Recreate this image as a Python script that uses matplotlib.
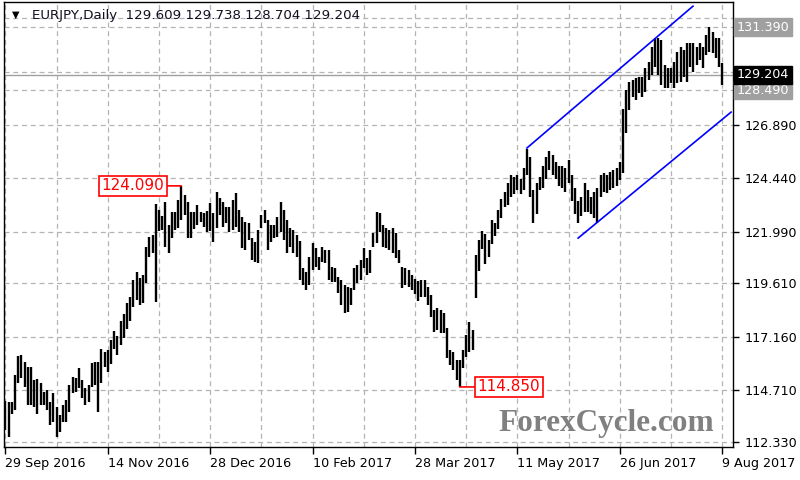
import matplotlib
matplotlib.use("Agg")
import matplotlib.pyplot as plt
import matplotlib.transforms as mtransforms

# EURJPY daily bars, 29 Sep 2016 .. 9 Aug 2017 (one entry per trading day)
highs = [
    114.22, 114.17, 114.17, 115.40, 116.28, 116.31, 116.01, 115.78, 115.78, 115.17,
    115.20, 115.01, 114.63, 114.71, 114.17, 114.55, 113.94, 113.56, 114.02, 114.25,
    114.94, 115.32, 115.24, 115.70, 115.17, 114.78, 114.94, 115.93, 116.01, 116.01,
    116.58, 116.47, 116.54, 117.00, 117.40, 117.20, 117.90, 118.20, 118.70, 119.00,
    119.76, 120.14, 119.84, 119.99, 121.29, 121.75, 121.83, 123.25, 123.00, 122.70,
    123.36, 122.30, 122.90, 122.90, 123.44, 124.09, 123.67, 123.36, 122.90, 122.90,
    123.21, 122.90, 122.83, 122.95, 123.29, 122.83, 123.82, 123.51, 123.36, 123.13,
    123.13, 123.44, 123.74, 122.98, 122.67, 122.44, 122.37, 121.68, 121.52, 122.06,
    122.75, 122.98, 122.52, 122.29, 122.29, 122.67, 123.36, 122.98, 122.52, 122.14,
    122.06, 121.83, 121.55, 120.30, 120.14, 120.83, 121.45, 121.22, 120.83, 121.29,
    121.14, 121.14, 120.37, 120.30, 119.91, 119.76, 119.53, 119.45, 119.38, 120.30,
    120.45, 120.68, 121.22, 120.76, 121.14, 121.91, 122.90, 122.83, 122.29, 122.14,
    122.06, 122.14, 121.91, 121.14, 120.37, 120.30, 120.22, 120.00, 119.80, 119.70,
    119.76, 119.76, 119.45, 119.07, 118.38, 118.46, 118.38, 118.23, 117.54, 116.54,
    116.47, 116.08, 116.08, 116.54, 117.23, 117.85, 117.46, 120.91, 121.60, 122.00,
    121.90, 121.60, 122.50, 122.40, 123.00, 123.50, 123.80, 124.20, 124.60, 124.50,
    124.60, 124.40, 124.90, 125.80, 125.40, 123.90, 124.20, 124.50, 125.00, 125.40,
    125.70, 125.50, 125.20, 125.00, 125.00, 124.90, 125.30, 124.60, 124.00, 123.40,
    123.60, 124.20, 123.90, 123.60, 123.80, 124.00, 124.59, 124.66, 124.59, 124.74,
    124.82, 124.90, 125.20, 127.60, 128.49, 128.88, 128.95, 129.03, 129.08, 129.11,
    129.49, 129.80, 130.49, 130.82, 130.87, 130.79, 129.64, 129.49, 129.49, 129.80,
    130.26, 130.49, 130.33, 130.64, 130.64, 130.64, 130.49, 130.64, 130.49, 131.02,
    131.39, 131.17, 130.87, 130.87, 129.738,
]
lows = [
    112.87, 112.56, 113.60, 113.79, 115.04, 115.24, 114.86, 114.02, 114.02, 113.94,
    113.60, 114.02, 114.02, 113.79, 113.10, 113.25, 112.56, 112.79, 113.25, 113.25,
    113.71, 114.55, 114.63, 114.78, 114.32, 114.02, 114.17, 114.86, 114.94, 113.71,
    115.04, 115.78, 115.55, 115.90, 116.60, 116.30, 116.80, 117.10, 117.50, 117.90,
    118.54, 118.84, 118.61, 118.69, 119.61, 120.83, 120.99, 118.75, 122.00, 122.06,
    121.30, 121.00, 121.70, 122.06, 122.14, 122.50, 122.75, 121.68, 121.68, 122.10,
    122.29, 122.44, 122.21, 121.95, 122.00, 121.52, 122.14, 122.75, 122.21, 122.37,
    121.98, 122.06, 122.21, 121.98, 121.22, 121.14, 121.60, 120.68, 120.60, 120.53,
    122.14, 122.37, 121.14, 121.52, 121.68, 121.75, 121.98, 121.60, 120.99, 121.29,
    120.99, 120.83, 119.75, 119.53, 119.30, 119.53, 120.22, 120.37, 120.22, 120.60,
    120.53, 119.76, 119.68, 119.68, 119.15, 118.61, 118.23, 118.31, 118.61, 119.30,
    119.61, 119.76, 120.30, 119.99, 120.07, 121.29, 121.45, 121.98, 121.29, 121.22,
    121.14, 120.99, 120.76, 120.53, 119.38, 119.53, 119.45, 119.30, 119.10, 118.80,
    119.00, 118.99, 118.61, 118.08, 117.39, 117.46, 117.31, 117.31, 116.16, 115.85,
    115.62, 115.17, 114.85, 115.70, 116.24, 116.47, 116.54, 118.93, 120.20, 121.20,
    120.50, 120.80, 121.40, 121.80, 122.10, 122.60, 123.10, 123.20, 123.60, 123.70,
    123.90, 123.70, 123.90, 124.60, 123.60, 122.40, 122.80, 123.90, 124.00, 124.40,
    124.80, 124.60, 124.40, 124.10, 124.00, 123.80, 124.20, 123.40, 122.80, 122.40,
    122.70, 122.90, 122.90, 122.80, 122.60, 122.40, 123.59, 123.82, 123.74, 123.89,
    123.97, 124.10, 124.36, 124.70, 126.50, 127.57, 128.19, 128.03, 128.34, 128.19,
    128.42, 128.95, 129.18, 129.57, 129.18, 128.72, 128.57, 128.57, 128.80, 128.57,
    128.80, 128.88, 129.11, 128.88, 129.57, 129.34, 129.64, 129.87, 129.49, 130.10,
    130.26, 130.18, 129.95, 129.57, 128.704,
]
bars = list(range(len(highs)))

date_ticks = list(range(0, 225, 32))
date_labels = ["29 Sep 2016", "14 Nov 2016", "28 Dec 2016", "10 Feb 2017",
               "28 Mar 2017", "11 May 2017", "26 Jun 2017", "9 Aug 2017"]
grid_prices = [112.33, 114.71, 117.16, 119.61, 121.99, 124.44, 126.89, 129.34, 131.79]
price_ticks = [112.33, 114.71, 117.16, 119.61, 121.99, 124.44, 126.89]

header = "EURJPY,Daily  129.609 129.738 128.704 129.204"
resistance = 131.39
support = 128.49
bid = 129.204
swing_high = (55, 124.09)
swing_low = (142, 114.85)
upper_channel = ([163, 214.9], [125.83, 132.35])
lower_channel = ([179, 226.8], [121.69, 127.48])

fig = plt.figure(figsize=(8, 4.8), dpi=100)
ax = fig.add_axes([4 / 800, 33 / 480, 729 / 800, 445 / 480])
ax.set_xlim(-0.41, 227.4)
ax.set_ylim(112.09, 132.54)

grid_kw = dict(color="#b4b4b4", lw=0.9, ls=(0, (4, 3)), zorder=0)
for g in range(0, 228, 16):
    ax.axvline(g, **grid_kw)
for p in grid_prices:
    ax.axhline(p, **grid_kw)

ax.axhline(resistance, **grid_kw)
ax.axhline(support, **grid_kw)
ax.axhline(bid, color="#a0a0a0", lw=1, zorder=1)

ax.vlines(bars, lows, highs, color="black", lw=1.7, zorder=3)

ax.plot(*upper_channel, color="#0000ff", lw=1.2, zorder=4)
ax.plot(*lower_channel, color="#0000ff", lw=1.2, zorder=4)

red_box = dict(boxstyle="square,pad=0.15", fc="white", ec="red", lw=1.2)
ax.annotate("124.090", xy=swing_high, xytext=(-17, 0), textcoords="offset pixels",
            ha="right", va="center", color="red", fontsize=11, bbox=red_box,
            arrowprops=dict(arrowstyle="-", color="red", lw=1.2, shrinkA=0, shrinkB=0),
            zorder=6)
ax.annotate("114.850", xy=swing_low, xytext=(18, 0), textcoords="offset pixels",
            ha="left", va="center", color="red", fontsize=11, bbox=red_box,
            arrowprops=dict(arrowstyle="-", color="red", lw=1.2, shrinkA=0, shrinkB=0),
            zorder=6)

ax.text(8 / 729, 1 - 13 / 445, "\u25bc", transform=ax.transAxes, fontsize=7,
        va="center", ha="left", color="black")
ax.text(28 / 729, 1 - 13 / 445, header, transform=ax.transAxes, fontsize=9.6,
        va="center", ha="left", color="#101020")

fig.text(498 / 800, 1 - 423 / 480, "ForexCycle.com", family="Liberation Serif",
         weight="bold", fontsize=22.5, color="#808080", va="center", ha="left")

ax.set_xticks(date_ticks)
ax.set_xticklabels(date_labels)
for lab in ax.get_xticklabels():
    lab.set_ha("left")
ax.tick_params(axis="x", direction="out", length=5, width=1, pad=2, labelsize=9.2)

ax.yaxis.tick_right()
ax.set_yticks(price_ticks)
ax.set_yticklabels(["%.3f" % p for p in price_ticks])
ax.tick_params(axis="y", direction="out", length=4, width=1, pad=4, labelsize=9.2)

for s in ax.spines.values():
    s.set_color("black")
    s.set_linewidth(1)

tr = mtransforms.blended_transform_factory(ax.transAxes, ax.transData)
for val, bg in [(resistance, "#a0a0a0"), (support, "#a0a0a0"), (bid, "black")]:
    ax.text(1 + 4 / 729, val, "%.3f" % val, transform=tr, ha="left", va="center",
            color="white", fontsize=9.2, clip_on=False, zorder=7,
            bbox=dict(boxstyle="square,pad=0.2", fc=bg, ec=bg))

fig.savefig("out.png", dpi=100)
